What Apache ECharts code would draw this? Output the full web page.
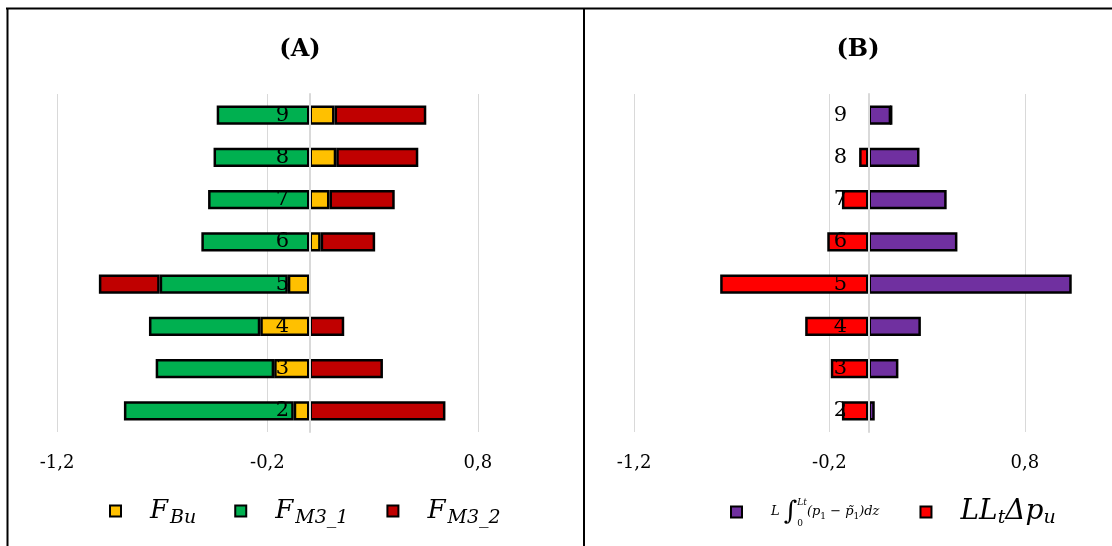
<!DOCTYPE html>
<html>
<head>
<meta charset="utf-8">
<script src="https://cdn.jsdelivr.net/npm/echarts@6/dist/echarts.min.js"></script>
<style>html,body{margin:0;padding:0;background:#fff}#c{width:1112px;height:546px}</style>
</head>
<body>
<div id="c"></div>
<script>
// ---- data ----
const categories = ['2', '3', '4', '5', '6', '7', '8', '9'];
// Panel A
const fBu  = [-0.075, -0.168, -0.234, -0.103, 0.053, 0.095, 0.127, 0.119];
const fM31 = [-0.807, -0.563, -0.529, -0.609, -0.514, -0.482, -0.456, -0.441];
const fM32 = [0.646, 0.349, 0.165, -0.289, 0.259, 0.310, 0.390, 0.436];
// Panel B
const integralTerm = [0.032, 0.153, 0.268, 1.040, 0.455, 0.400, 0.261, 0.116];
const pressureTerm = [-0.136, -0.193, -0.324, -0.759, -0.211, -0.136, -0.048, 0];
const xTicks = [-1.2, -0.2, 0.8];
const titles = ['(A)', '(B)'];

const chart = echarts.init(document.getElementById('c'), null, {renderer: 'canvas'});
const serif = 'DejaVu Serif';
const fmtTick = v => {
  const r = Math.round(v * 10) / 10;
  return xTicks.some(t => Math.abs(t - r) < 1e-9) ? r.toFixed(1).replace('.', ',') : '';
};

function xAxis(gi) {
  return {
    type: 'value', gridIndex: gi, min: -1.2, max: 1.2, interval: 1,
    axisLine: {show: false}, axisTick: {show: false},
    splitLine: {show: true, showMaxLine: false, lineStyle: {color: '#d9d9d9', width: 1}},
    axisLabel: {formatter: fmtTick, showMaxLabel: false, margin: 22, fontFamily: serif, fontSize: 18, color: '#000'}
  };
}
function yAxis(gi, margin) {
  return {
    type: 'category', gridIndex: gi, data: categories, z: 10,
    axisLine: {show: true, onZero: true, lineStyle: {color: '#d9d9d9', width: 2}},
    axisTick: {show: false},
    axisLabel: {margin: margin, fontFamily: serif, fontSize: 21, color: '#000', padding: [8, 0, 0, 0]}
  };
}
function bar(name, data, color, gi, stack) {
  return {
    type: 'bar', name: name, data: data, xAxisIndex: gi, yAxisIndex: gi, stack: stack,
    barWidth: '45%',
    itemStyle: {color: color, borderColor: '#000', borderWidth: 2.5},
    emphasis: {disabled: true}
  };
}

const subRich = {
  sp: {width: 24},
  f: {fontFamily: serif, fontStyle: 'italic', fontSize: 26, color: '#000'},
  s: {fontFamily: serif, fontStyle: 'italic', fontSize: 19, color: '#000', padding: [14, 0, 0, 2]},
  a: {fontFamily: serif, fontStyle: 'italic', fontSize: 13, color: '#000'},
  int: {fontFamily: serif, fontSize: 26, color: '#000'},
  lo: {fontFamily: serif, fontSize: 9, color: '#000', padding: [24, 0, 0, 0], width: 0},
  hi: {fontFamily: serif, fontStyle: 'italic', fontSize: 9, color: '#000', padding: [0, 0, 18, 0]},
  ss: {fontFamily: serif, fontSize: 9, color: '#000', padding: [9, 0, 0, 0]},
  big: {fontFamily: serif, fontStyle: 'italic', fontSize: 28, color: '#000'},
  bs: {fontFamily: serif, fontStyle: 'italic', fontSize: 19, color: '#000', padding: [12, 0, 0, 0]}
};
const legendText = {
  'FBu': '{sp|}{f|F}{s|Bu}',
  'FM3_1': '{sp|}{f|F}{s|M3_1}',
  'FM3_2': '{sp|}{f|F}{s|M3_2}',
  'integral': '{sp|}{a|L }{int|∫}{lo|0}{hi|Lt}{a|(p}{ss|1}{a| − p̃}{ss|1}{a|)dz}',
  'LLtDpu': '{sp|}{big|LL}{bs|t}{big|Δp}{bs|u}'
};

chart.setOption({
  animation: false,
  backgroundColor: '#fff',
  title: [
    {text: titles[0], left: 295, top: 33, textAlign: 'center',
     textStyle: {fontFamily: serif, fontWeight: 'bold', fontSize: 24, color: '#000'}},
    {text: titles[1], left: 853, top: 33, textAlign: 'center',
     textStyle: {fontFamily: serif, fontWeight: 'bold', fontSize: 24, color: '#000'}}
  ],
  grid: [
    {left: 57, width: 505, top: 94, height: 338},
    {left: 634, width: 469, top: 94, height: 338}
  ],
  xAxis: [xAxis(0), xAxis(1)],
  yAxis: [yAxis(0, -232), yAxis(1, -213)],
  legend: [
    {data: ['FBu', 'FM3_1', 'FM3_2'], left: 104, top: 493, itemWidth: 11, itemHeight: 11, itemGap: 38,
     selectedMode: false, icon: 'rect',
     itemStyle: {borderColor: '#000', borderWidth: 2},
     formatter: n => legendText[n], textStyle: {rich: subRich}},
    {data: ['integral', 'LLtDpu'], left: 725, top: 493, itemWidth: 11, itemHeight: 11, itemGap: 40,
     selectedMode: false, icon: 'rect',
     itemStyle: {borderColor: '#000', borderWidth: 2},
     formatter: n => legendText[n], textStyle: {rich: subRich}}
  ],
  series: [
    bar('FBu', fBu, '#FFC000', 0, 'A'),
    bar('FM3_1', fM31, '#00B050', 0, 'A'),
    bar('FM3_2', fM32, '#C00000', 0, 'A'),
    bar('integral', integralTerm, '#7030A0', 1, 'B'),
    bar('LLtDpu', pressureTerm, '#FF0000', 1, 'B')
  ],
  graphic: [
    {type: 'line', shape: {x1: 6, y1: 8.5, x2: 1112, y2: 8.5}, style: {stroke: '#000', lineWidth: 2}, z: 100},
    {type: 'line', shape: {x1: 7.5, y1: 8, x2: 7.5, y2: 546}, style: {stroke: '#000', lineWidth: 2}, z: 100},
    {type: 'line', shape: {x1: 584, y1: 8, x2: 584, y2: 546}, style: {stroke: '#000', lineWidth: 2}, z: 100}
  ]
});
</script>
</body>
</html>
